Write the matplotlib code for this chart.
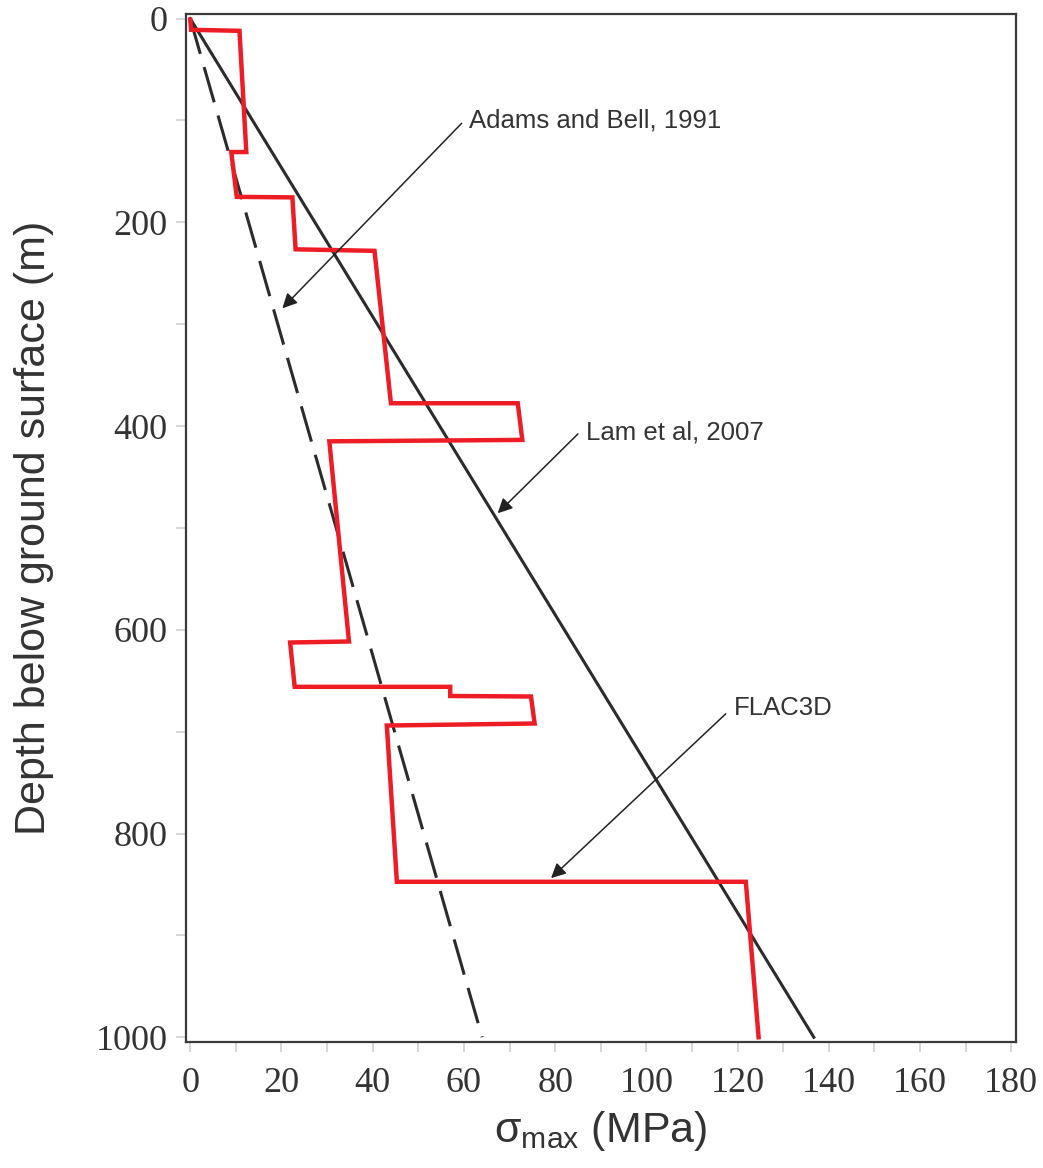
import matplotlib
matplotlib.use("Agg")

import matplotlib.pyplot as plt
from matplotlib.ticker import MultipleLocator

# ================================
# data
# ================================
flac_x = [0, 0.2, 10.8, 12.3, 9.0, 10.2, 22.4, 23.1, 40.4, 44.0, 71.8, 72.8,
          30.5, 34.8, 21.9, 22.9, 57.0, 57.0, 74.7, 75.5, 43.1, 45.3, 121.8, 124.6]
flac_d = [1, 11, 12, 131, 131, 175, 175.5, 226.5, 228, 377.6, 377.6, 413.6,
          415, 611.5, 612.5, 656, 656, 665, 665.5, 692, 694, 847.4, 847.4, 1000]

lam_x = [0, 136.7]
lam_d = [0, 1000]

adams_x = [0, 64]
adams_d = [0, 1000]

# label text, text position, arrow tail, arrow head
labels = ["Adams and Bell, 1991", "Lam et al, 2007", "FLAC3D"]
label_pos = [(61.2, 99.6), (86.8, 406.5), (119.1, 676.6)]
arrow_tail = [(59.5, 102.8), (85.0, 407.7), (117.4, 682.5)]
arrow_head = [(20.2, 284.4), (67.4, 485.6), (79.1, 843.8)]

x_ticks = [0, 20, 40, 60, 80, 100, 120, 140, 160, 180]
y_ticks = [0, 200, 400, 600, 800, 1000]

plt.rcParams["mathtext.fontset"] = "custom"
plt.rcParams["mathtext.rm"] = "Liberation Sans"
plt.rcParams["mathtext.it"] = "Liberation Sans:italic"

fig = plt.figure(figsize=(10.43, 11.68), dpi=100)
ax = fig.add_axes([0.178, 0.1076, 0.796, 0.8804])

dark = "#2b2b2b"

ax.plot(flac_x, flac_d, color="#ee1c25", lw=3.2, solid_joinstyle="miter", zorder=3)
ax.plot(lam_x, lam_d, color=dark, lw=2.2, zorder=2)
ax.plot(adams_x, adams_d, color=dark, lw=2.2, dashes=(12, 4.5), zorder=2)

for txt, pos, tail, head in zip(labels, label_pos, arrow_tail, arrow_head):
    ax.text(pos[0], pos[1], txt, family="Liberation Sans", fontsize=18.5,
            color="#333333", ha="left", va="center")
    ax.annotate("", xy=head, xytext=tail,
                arrowprops=dict(arrowstyle="-|>", mutation_scale=22, lw=1.1,
                                color="#222222", shrinkA=0, shrinkB=0))

ax.set_xlim(-1, 181)
ax.set_ylim(1005, -4.5)
ax.set_xticks(x_ticks)
ax.set_yticks(y_ticks)
ax.xaxis.set_minor_locator(MultipleLocator(10))
ax.yaxis.set_minor_locator(MultipleLocator(100))

ax.tick_params(which="both", direction="out", color="#d0d0d0", width=1.2,
               length=7, labelsize=26, labelcolor="#333333", pad=6)
ax.tick_params(axis="x", which="both", pad=11)
for lab in ax.get_xticklabels() + ax.get_yticklabels():
    lab.set_family("Liberation Serif")

for sp in ax.spines.values():
    sp.set_color("#3a3a3a")
    sp.set_linewidth(1.6)

ax.set_xlabel("σ$_{\\mathrm{max}}$ (MPa)", family="Liberation Sans",
              fontsize=31, color="#333333", labelpad=6)
ax.set_ylabel("Depth below ground surface (m)", family="Liberation Sans",
              fontsize=31, color="#333333", labelpad=30)

plt.savefig("out.png")
plt.close()
